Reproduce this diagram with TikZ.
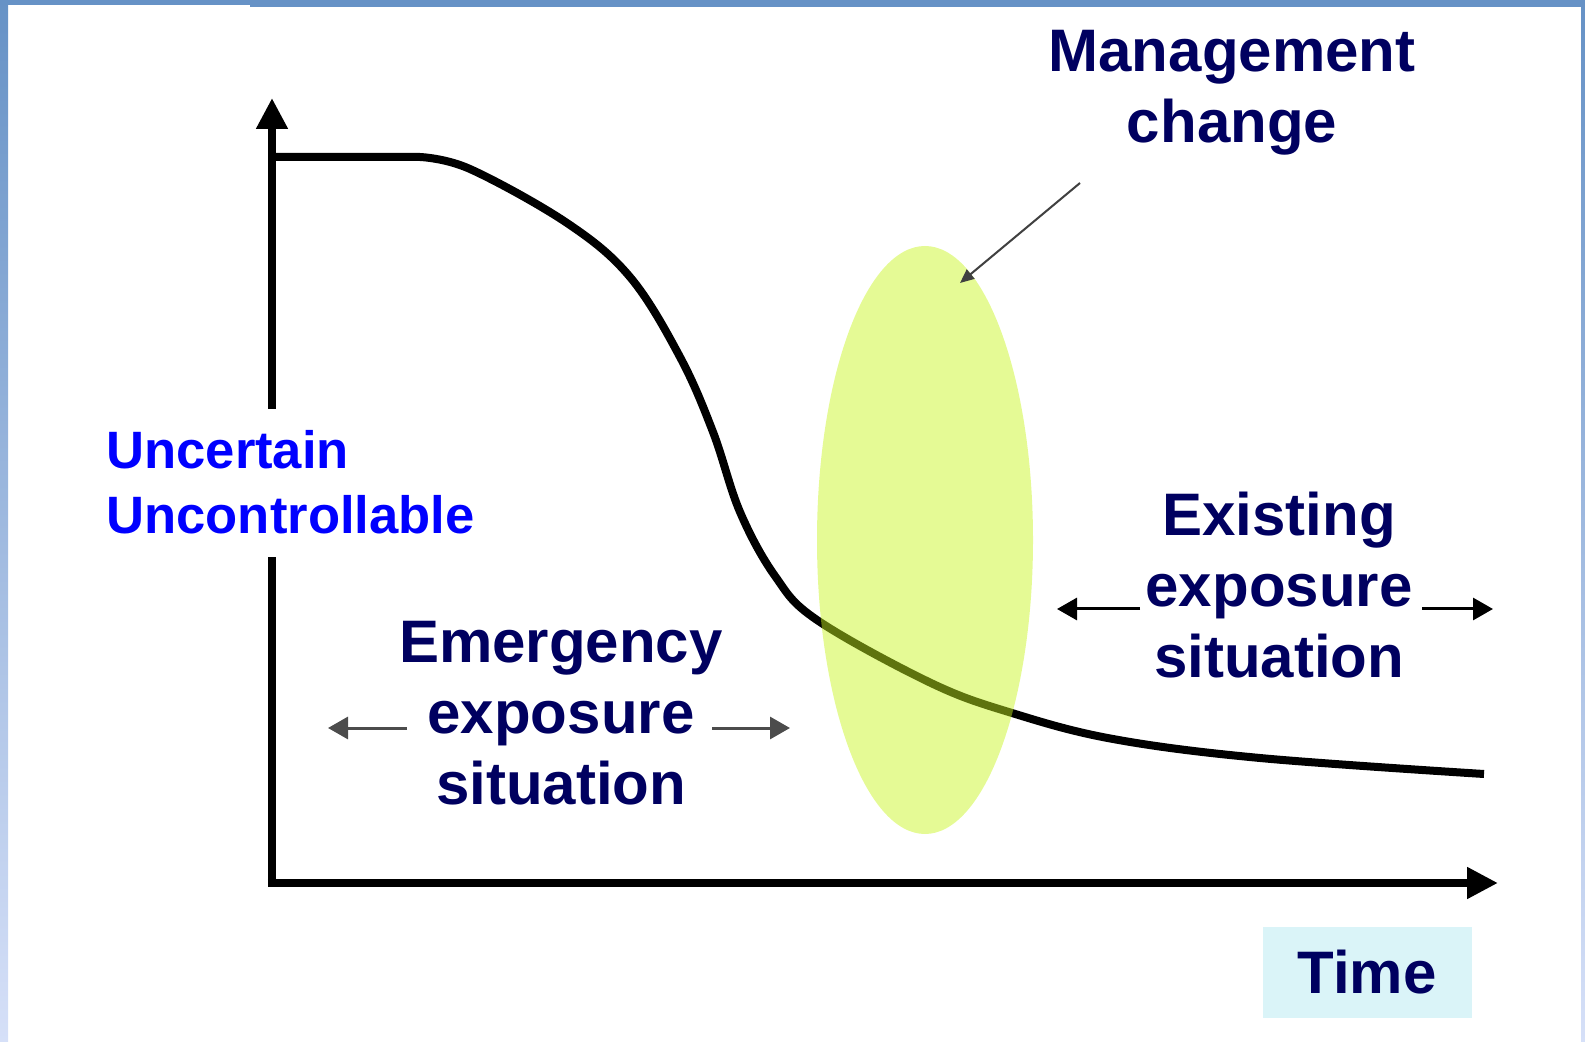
\documentclass[tikz,border=0pt]{standalone}
\usepackage{fontspec}
\setmainfont{Liberation Sans}
\usepackage{tikz}
\usetikzlibrary{arrows.meta,positioning,calc}
\definecolor{framecolor}{RGB}{102,146,198}
\definecolor{framelight}{RGB}{214,224,248}
\definecolor{labelcolor}{RGB}{0,0,96}
\definecolor{riskcolor}{RGB}{0,0,255}
\definecolor{changecolor}{RGB}{200,245,30}
\definecolor{timecolor}{RGB}{218,244,248}

\begin{document}
\begin{tikzpicture}[
    x=0.5pt, y=-0.5pt,
    every node/.style={font=\bfseries\fontsize{30}{35.5}\selectfont, text=labelcolor},
    axis/.style={line width=4.2pt, -{Triangle[length=15.5pt, width=15pt]}},
    curve/.style={line width=4pt, line join=round},
    span/.style={line width=1.5pt, -{Triangle[length=10pt, width=11pt]}},
    pointer/.style={line width=1pt, black!75, -{Triangle[length=7pt, width=6pt]}}
]
\useasboundingbox (0,0) rectangle (1585,1042);

% Rahmen
\fill[framecolor] (0,0) rectangle (250,5);
\fill[framecolor] (250,0) rectangle (1585,7);
\shade[top color=framecolor, bottom color=framelight] (0,0) rectangle (8,1042);
\shade[top color=framecolor, bottom color=framelight] (1581,0) rectangle (1585,1042);

% Achsen
\coordinate (O) at (272,883);
\coordinate (ytop) at (272,98);
\coordinate (xend) at (1498,883);
\draw[axis] (O) -- (ytop);
\draw[axis] ([xshift=-2.1pt]O) -- (xend);

% Kurve
\draw[curve] (272,157) -- (420,157) plot[smooth, tension=0.6] coordinates {(420,157) (470,169)
    (567,223) (630,277) (680,357) (713,432) (740,512) (775,576) (817,620)
    (931,683) (1012,713) (1113,739) (1260,758) (1484,774)};

% Ellipse
\fill[changecolor, fill opacity=0.47] (925,540) ellipse [x radius=108, y radius=294];

% Management change
\node[anchor=base, align=center] (mgmt) at (1232,143) {Management\\change};
\coordinate (mgmtfrom) at (1080,183);
\coordinate (mgmtto) at (960,283);
\draw[pointer] (mgmtfrom) -- (mgmtto);

% Uncertain
\node[anchor=base west, align=left, fill=white, text=riskcolor, inner xsep=0pt, inner ysep=11pt,
      font=\bfseries\fontsize{26.3}{32.5}\selectfont] (risk) at (106,534) {Uncertain\\Uncontrollable};

% Emergency
\node[anchor=base, align=center] (emerg) at (561,804) {Emergency\\exposure\\situation};
\coordinate (emergL) at (328,728);
\coordinate (emergLt) at (407,728);
\coordinate (emergR) at (790,728);
\coordinate (emergRt) at (712,728);
\draw[span, black!70] (emergLt) -- (emergL);
\draw[span, black!70] (emergRt) -- (emergR);

% Existing
\node[anchor=base, align=center] (exist) at (1279,677) {Existing\\exposure\\situation};
\coordinate (existL) at (1057,609);
\coordinate (existLt) at (1140,609);
\coordinate (existR) at (1493,609);
\coordinate (existRt) at (1422,609);
\draw[span] (existLt) -- (existL);
\draw[span] (existRt) -- (existR);

% Time
\node[fill=timecolor, minimum width=104.5pt, minimum height=45.5pt, inner sep=0pt] (time) at (1367,972) {Time};

\end{tikzpicture}
\end{document}
